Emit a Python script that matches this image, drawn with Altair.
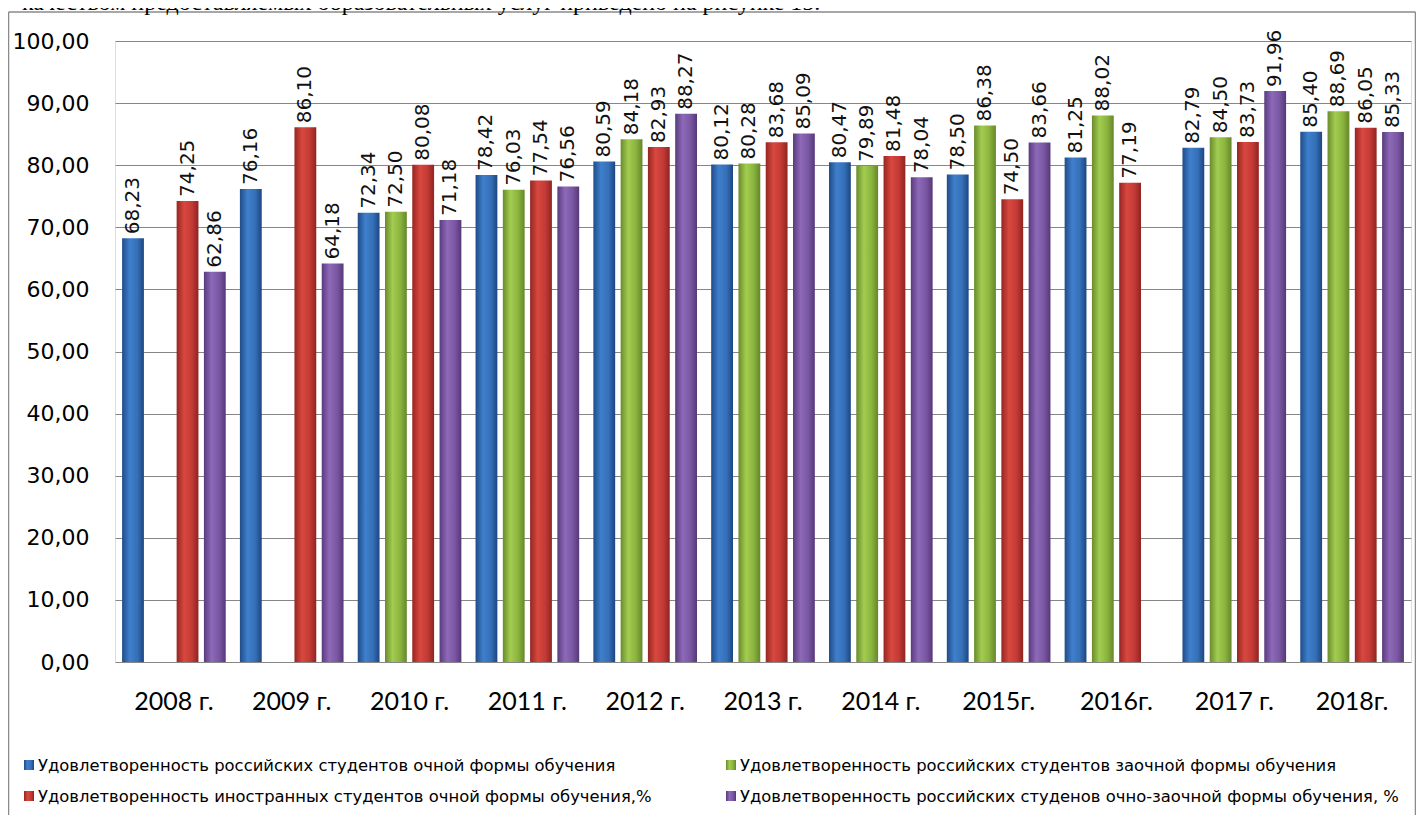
import altair as alt
import pandas as pd

YEARS = ["2008 г.", "2009 г.", "2010 г.", "2011 г.", "2012 г.", "2013 г.",
         "2014 г.", "2015г.", "2016г.", "2017 г.", "2018г."]

SERIES = [
    "Удовлетворенность российских студентов очной формы обучения",
    "Удовлетворенность российских  студентов заочной формы обучения",
    "Удовлетворенность иностранных студентов очной формы обучения,%",
    "Удовлетворенность российских студенов очно-заочной формы обучения, %",
]

FULLTIME_RU = [68.23, 76.16, 72.34, 78.42, 80.59, 80.12, 80.47, 78.50, 81.25, 82.79, 85.40]
EXTRAMURAL_RU = [None, None, 72.50, 76.03, 84.18, 80.28, 79.89, 86.38, 88.02, 84.50, 88.69]
FULLTIME_FOREIGN = [74.25, 86.10, 80.08, 77.54, 82.93, 83.68, 81.48, 74.50, 77.19, 83.73, 86.05]
PARTTIME_RU = [62.86, 64.18, 71.18, 76.56, 88.27, 85.09, 78.04, 83.66, None, 91.96, 85.33]

VALUES = [FULLTIME_RU, EXTRAMURAL_RU, FULLTIME_FOREIGN, PARTTIME_RU]

GRADIENTS = [
    ["#1f4c88", "#3f7fcc", "#3570b8", "#1d4680"],
    ["#6a8b2c", "#a2cd50", "#8ab43e", "#66862a"],
    ["#962622", "#d8483f", "#c33a36", "#8f2420"],
    ["#593b7e", "#8d69b8", "#7a57a3", "#553878"],
]

TOP_TEXT = "качеством предоставляемых образовательных услуг приведено на рисунке 15."

rows = []
for name, vals in zip(SERIES, VALUES):
    for y, v in zip(YEARS, vals):
        if v is not None:
            rows.append({"year": y, "series": name, "value": v,
                         "label": f"{v:.2f}".replace(".", ",")})
df = pd.DataFrame(rows)

W, H = 1296, 621

x_enc = alt.X("year:N", sort=YEARS,
              scale=alt.Scale(domain=YEARS, paddingInner=0, paddingOuter=0),
              axis=alt.Axis(title=None, labelAngle=0, ticks=False, domain=False,
                            labelFont="Lato", labelFontSize=25, labelColor="#000",
                            labelPadding=27, grid=False))
xo_enc = alt.XOffset("series:N",
                     scale=alt.Scale(domain=SERIES, paddingInner=0.2, paddingOuter=0.26))
y_enc = alt.Y("value:Q", scale=alt.Scale(domain=[0, 100], nice=False),
              axis=alt.Axis(title=None, values=list(range(0, 101, 10)),
                            labelExpr="replace(format(datum.value, '.2f'), '.', ',')",
                            ticks=False, domain=False, labelFont="DejaVu Sans",
                            labelFontSize=22, labelColor="#000", labelPadding=26,
                            gridColor="#868686", gridWidth=1))

one = pd.DataFrame({"a": [0]})


def grad(stops):
    offs = [0, 0.35, 0.7, 1]
    return alt.LinearGradient(gradient="linear", x1=0, x2=1, y1=0, y2=0,
                              stops=[alt.GradientStop(offset=o, color=c)
                                     for o, c in zip(offs, stops)])


FRAME = "#8a8a8a"
frame_left = alt.Chart(one).mark_rule(color=FRAME, strokeWidth=1.5).encode(
    x=alt.value(-106.5), y=alt.value(-29), y2=alt.value(774))
frame_right = alt.Chart(one).mark_rule(color=FRAME, strokeWidth=1.5).encode(
    x=alt.value(1300.5), y=alt.value(-29), y2=alt.value(774))
frame_top = alt.Chart(one).mark_rule(color=FRAME, strokeWidth=1.5).encode(
    x=alt.value(-106.5), x2=alt.value(1300.5), y=alt.value(-29))

bar_layers = []
for name, g in zip(SERIES, GRADIENTS):
    sub = df[df["series"] == name]
    bar_layers.append(
        alt.Chart(sub).mark_bar(fill=grad(g)).encode(x=x_enc, xOffset=xo_enc, y=y_enc)
    )

labels = alt.Chart(df).mark_text(angle=270, align="left", baseline="middle", dx=4,
                                 font="DejaVu Sans", fontSize=20, color="#111").encode(
    x=x_enc, xOffset=xo_enc, y=y_enc, text="label:N")

legend_layers = []
LEG_POS = [(-91, 724), (611, 724), (-91, 755), (611, 755)]
for name, g, (lx, ly) in zip(SERIES, GRADIENTS, LEG_POS):
    legend_layers.append(
        alt.Chart(one).mark_rect(fill=grad(g)).encode(
            x=alt.value(lx), x2=alt.value(lx + 10),
            y=alt.value(ly - 5), y2=alt.value(ly + 5))
    )
    legend_layers.append(
        alt.Chart(one).mark_text(align="left", baseline="middle", font="DejaVu Sans",
                                 fontSize=16.4, color="#000").encode(
            x=alt.value(lx + 14), y=alt.value(ly + 1), text=alt.value(name))
    )

top_text = alt.Chart(one).mark_text(align="left", baseline="alphabetic",
                                    font="Liberation Serif", fontSize=24,
                                    color="#000").encode(
    x=alt.value(-93), y=alt.value(-31), text=alt.value(TOP_TEXT))

chart = alt.layer(frame_left, frame_right, frame_top, *bar_layers, labels,
                  *legend_layers, top_text).properties(
    width=W, height=H,
    autosize=alt.AutoSizeParams(type="none"),
    padding={"left": 107, "top": 33, "right": 5, "bottom": 153},
).configure_view(stroke=FRAME, strokeWidth=1).configure(background="white")

chart.save("out.html", embed_options={"renderer": "svg", "actions": False})
